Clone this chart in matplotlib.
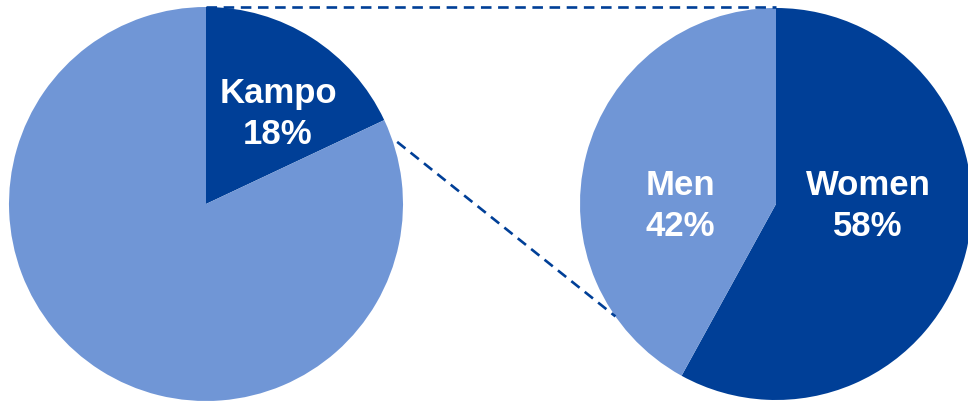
import numpy as np
import matplotlib.pyplot as plt

plt.rcParams['font.family'] = ['Liberation Sans', 'DejaVu Sans']

left_labels = ['Kampo', '']
left_values = [18, 82]
right_labels = ['Women', 'Men']
right_values = [58, 42]

dark = '#003F97'
light = '#7096D6'

fig = plt.figure(figsize=(9.68, 4.03), dpi=100)
ax = fig.add_axes([0, 0, 1, 1])

lc, lr = (206, 199), 197
rc, rr = (776, 199), 196

ax.pie(left_values, colors=[dark, light], startangle=90, counterclock=False,
       center=lc, radius=lr, wedgeprops=dict(linewidth=0))
ax.pie(right_values, colors=[dark, light], startangle=90, counterclock=False,
       center=rc, radius=rr, wedgeprops=dict(linewidth=0))

ax.set_xlim(0, 968)
ax.set_ylim(0, 403)
ax.set_aspect('equal')
ax.axis('off')

txt = dict(color='white', fontsize=25, fontweight='bold', ha='center', va='center',
           linespacing=1.3)
ax.text(278, 403 - 114, f'{left_labels[0]}\n{left_values[0]}%', **txt)
ax.text(868, 403 - 206, f'{right_labels[0]}\n{right_values[0]}%', **txt)
ax.text(680, 403 - 206, f'{right_labels[1]}\n{right_values[1]}%', **txt)


def on_circle(c, r, deg):
    a = np.deg2rad(deg)
    return (c[0] + r * np.cos(a), c[1] + r * np.sin(a))


line = dict(color=dark, lw=1.9, linestyle=(0, (4, 2.5)))
p1 = on_circle(lc, lr, 90)
p2 = on_circle(rc, lr, 90)
ax.plot([p1[0], p2[0]], [p1[1], p2[1]], **line)
p3 = on_circle(lc, lr + 4, 18)
p4 = on_circle(rc, rr, 215)
ax.plot([p3[0], p4[0]], [p3[1], p4[1]], **line)

fig.savefig('out.png', dpi=100)
